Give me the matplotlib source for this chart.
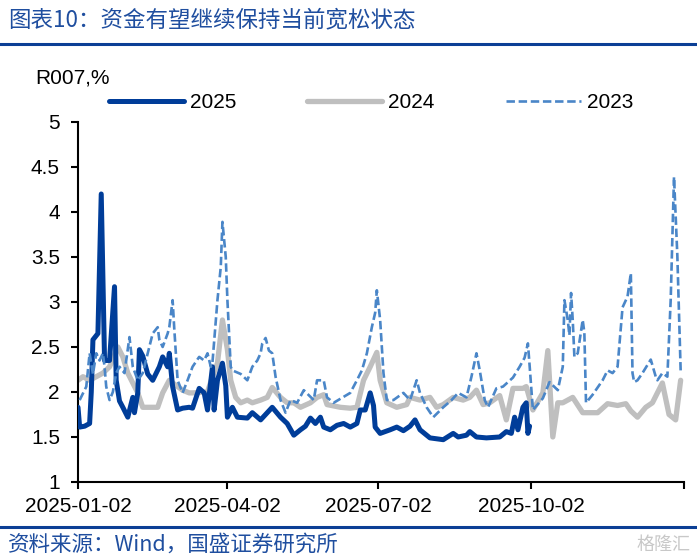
import matplotlib
matplotlib.use("Agg")
import matplotlib.pyplot as plt
import pandas as pd

plt.rcParams['font.family'] = ['Liberation Sans', 'Noto Sans CJK SC', 'DejaVu Sans']

# R007 daily fixings, x = trading day offset from 2025-01-02
days_2025 = [0, 1, 4, 7, 8, 9, 12, 14, 16, 19, 22, 23, 25, 27, 30, 33, 34, 36, 37, 39,
             42, 45, 49, 51, 54, 55, 57, 60, 63, 67, 69, 73, 76, 78, 81, 82, 84, 87, 89, 90,
             93, 96, 102, 105, 110, 114, 117, 122, 126, 130, 134, 137, 140, 143, 146, 148, 152, 156, 160, 164,
             168, 170, 173, 176, 178, 179, 182, 188, 192, 196, 200, 203, 206, 212, 220, 226, 229, 234, 236, 240,
             246, 254, 258, 261, 263, 265, 268, 270, 271, 272]
r007_2025 = [1.83, 1.61, 1.62, 1.65, 2.0, 2.58, 2.65, 4.2, 2.35, 2.35, 3.17, 2.13, 1.9, 1.83, 1.72, 1.94, 1.77, 1.99, 2.47, 2.4,
             2.2, 2.13, 2.28, 2.39, 2.28, 2.43, 2.06, 1.8, 1.82, 1.83, 1.82, 2.04, 1.99, 1.8, 2.28, 1.8, 2.13, 2.32, 2.07, 1.72,
             1.83, 1.72, 1.71, 1.77, 1.69, 1.77, 1.83, 1.72, 1.65, 1.52, 1.58, 1.62, 1.71, 1.65, 1.72, 1.61, 1.58, 1.63, 1.65, 1.61,
             1.65, 1.8, 1.8, 1.99, 1.85, 1.61, 1.54, 1.58, 1.61, 1.57, 1.62, 1.69, 1.58, 1.49, 1.47, 1.54, 1.5, 1.52, 1.56, 1.5,
             1.49, 1.5, 1.56, 1.54, 1.72, 1.58, 1.83, 1.88, 1.54, 1.62]

days_2024 = [0, 3, 7, 11, 15, 19, 24, 27, 30, 36, 39, 43, 48, 51, 55, 60, 63, 67, 69, 78,
             81, 84, 87, 90, 92, 95, 98, 102, 105, 110, 114, 117, 122, 126, 130, 134, 140, 144, 148, 150,
             158, 164, 168, 172, 176, 180, 182, 186, 192, 198, 200, 206, 212, 216, 220, 226, 232, 236, 240, 244,
             248, 254, 258, 262, 268, 270, 274, 280, 283, 286, 289, 292, 298, 304, 313, 319, 325, 330, 333, 337,
             342, 346, 352, 356, 360, 363]
r007_2024 = [2.13, 2.17, 2.13, 2.17, 2.21, 2.28, 2.5, 2.39, 2.21, 1.99, 1.83, 1.83, 1.83, 1.99, 2.13, 2.06, 2.02, 1.99, 1.99, 2.0,
             2.17, 2.32, 2.8, 2.47, 2.13, 1.94, 1.88, 1.91, 1.88, 1.91, 1.94, 2.05, 1.94, 1.88, 1.88, 1.83, 1.88, 1.94, 1.97, 1.86,
             1.83, 1.82, 1.83, 2.13, 2.28, 2.44, 2.13, 1.88, 1.83, 1.86, 1.94, 1.91, 1.94, 1.83, 1.86, 1.94, 1.91, 1.94, 2.02, 1.86,
             1.88, 1.96, 1.69, 2.04, 2.04, 2.06, 1.8, 1.99, 2.46, 1.5, 1.88, 1.88, 1.94, 1.77, 1.77, 1.87, 1.85, 1.87, 1.79, 1.72,
             1.83, 1.88, 2.1, 1.75, 1.69, 2.13]

days_2023 = [1, 5, 7, 9, 11, 13, 15, 16, 17, 19, 21, 23, 25, 28, 31, 33, 36, 39, 42, 45,
             48, 49, 51, 54, 55, 57, 58, 60, 63, 66, 69, 73, 76, 78, 80, 81, 84, 86, 87, 89,
             90, 92, 93, 98, 102, 105, 108, 110, 111, 113, 115, 117, 119, 122, 125, 128, 132, 136, 142, 144,
             148, 150, 154, 164, 168, 171, 174, 177, 179, 180, 182, 184, 186, 190, 196, 200, 204, 206, 210, 214,
             220, 225, 229, 234, 237, 240, 242, 245, 247, 252, 256, 262, 266, 269, 271, 272, 274, 280, 284, 289,
             292, 293, 295, 296, 297, 298, 299, 301, 304, 305, 306, 310, 316, 319, 322, 325, 328, 331, 333, 334,
             335, 337, 340, 345, 348, 349, 352, 355, 357, 359, 361, 363]
r007_2023 = [1.91, 2.06, 2.43, 2.2, 2.43, 2.35, 2.43, 2.28, 2.06, 1.91, 2.0, 2.21, 2.28, 2.21, 2.61, 2.28, 2.13, 2.21, 2.43, 2.65,
             2.72, 2.58, 2.5, 2.65, 2.72, 3.02, 2.7, 2.13, 1.99, 2.13, 2.28, 2.39, 2.35, 2.43, 2.28, 2.33, 3.02, 3.39, 3.89, 3.5,
             3.02, 2.28, 2.24, 2.2, 2.13, 2.28, 2.35, 2.43, 2.54, 2.6, 2.46, 2.43, 2.17, 1.91, 1.77, 1.91, 1.88, 2.02, 1.91, 2.13,
             2.13, 1.94, 1.88, 1.99, 2.13, 2.24, 2.43, 2.72, 2.88, 3.13, 2.8, 2.21, 1.91, 1.91, 1.99, 1.91, 2.13, 1.99, 1.83, 1.72,
             1.83, 1.91, 1.99, 1.94, 2.17, 2.43, 2.24, 1.91, 1.83, 2.04, 2.06, 2.16, 2.28, 2.38, 2.54, 2.3, 1.8, 1.93, 2.11, 2.02,
             2.28, 3.02, 2.8, 2.63, 3.1, 2.8, 2.39, 2.43, 2.8, 2.66, 1.88, 1.97, 2.13, 2.24, 2.21, 2.28, 2.94, 3.06, 3.32, 2.21,
             2.11, 2.13, 2.21, 2.36, 2.17, 2.13, 2.21, 2.17, 3.02, 4.39, 3.52, 2.24]

tick_dates = ['2025-01-02', '2025-04-02', '2025-07-02', '2025-10-02', '2026-01-02']
tick_labels = ['2025-01-02', '2025-04-02', '2025-07-02', '2025-10-02', '']
y_ticks = [1, 1.5, 2, 2.5, 3, 3.5, 4, 4.5, 5]

start = pd.Timestamp('2025-01-02')
def to_dates(days):
    return start + pd.to_timedelta(days, unit='D')

navy = '#0B3F95'
cjk = ['Noto Sans CJK SC', 'DejaVu Sans']

fig = plt.figure(figsize=(6.97, 5.6), dpi=100)
ax = fig.add_axes([0.1119, 0.1393, 0.8694, 0.6429])

ax.plot(to_dates(days_2024), r007_2024, color='#BFBFBF', lw=3.8, label='2024', zorder=2,
        solid_joinstyle='round', solid_capstyle='round')
ax.plot(to_dates(days_2025), r007_2025, color='#003D99', lw=3.6, label='2025', zorder=3,
        solid_joinstyle='round', solid_capstyle='round')
ax.plot(to_dates(days_2023), r007_2023, color='#4A86C8', lw=1.9, label='2023', zorder=4,
        dashes=(3.2, 1.4))

ax.set_xlim(pd.Timestamp(tick_dates[0]), pd.Timestamp(tick_dates[-1]))
ax.set_ylim(1, 5)
ax.set_xticks(pd.to_datetime(tick_dates))
ax.set_xticklabels(tick_labels)
ax.set_yticks(y_ticks)
ax.set_yticklabels([f'{v:g}' for v in y_ticks])

for side in ['top', 'right']:
    ax.spines[side].set_visible(False)
for side in ['left', 'bottom']:
    ax.spines[side].set_linewidth(1.5)
    ax.spines[side].set_color('black')
ax.tick_params(axis='both', direction='out', length=5, width=1.5, labelsize=15, colors='black')
ax.tick_params(axis='y', pad=8)
ax.tick_params(axis='x', pad=6)

handles, labels = ax.get_legend_handles_labels()
order = [1, 0, 2]
ax.legend([handles[i] for i in order], [labels[i] for i in order],
          loc='lower left', bbox_to_anchor=(0.037, 1.005), ncol=3, frameon=False,
          fontsize=15, handlelength=3.6, handletextpad=0.3, columnspacing=3.4,
          borderaxespad=0)

fig.text(0.05, 1 - 78 / 560, 'R007,%', fontsize=15, va='center', ha='left')

# header / footer
fig.text(0.012, 1 - 20 / 560, '图表10：资金有望继续保持当前宽松状态', fontsize=16.2,
         color='#1F4E9F', va='center', ha='left', family=cjk)
fig.add_artist(plt.Line2D([0, 1], [1 - 44 / 560, 1 - 44 / 560], color=navy, lw=2.2,
                          transform=fig.transFigure))
fig.add_artist(plt.Line2D([0, 1], [1 - 527 / 560, 1 - 527 / 560], color=navy, lw=2.2,
                          transform=fig.transFigure))
fig.text(0.012, 1 - 545 / 560, '资料来源：Wind，国盛证券研究所', fontsize=15.5,
         color='#1F4E9F', va='center', ha='left', family=cjk)
fig.text(0.99, 1 - 545 / 560, '格隆汇', fontsize=13, color='#C8C8C8', va='center', ha='right',
         family=cjk)

fig.savefig('out.png', dpi=100)
